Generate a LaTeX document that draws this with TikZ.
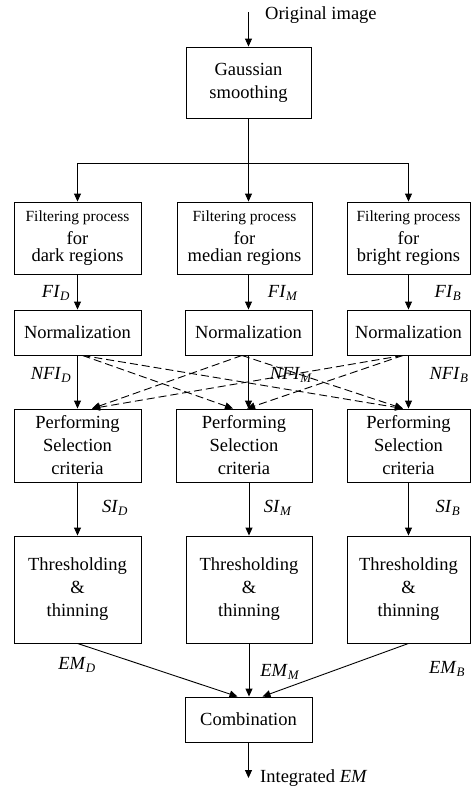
\documentclass[tikz,border=0pt]{standalone}
\usepackage{fontspec}
\setmainfont{Liberation Serif}
\usetikzlibrary{arrows.meta,positioning}
\newcommand{\sname}[2]{\textit{#1}\textsubscript{\textit{#2}}}
\newcommand{\filtfont}{\fontsize{15.5}{20}\selectfont}

\begin{document}
\begin{tikzpicture}[x=1pt, y=-1pt, font=\fontsize{18.5}{23}\selectfont]

\tikzstyle{block} = [rectangle, draw, line width=0.9pt, align=center, inner sep=0pt]
\tikzstyle{arrow} = [line width=0.9pt, -{Triangle[length=8pt,width=7pt]}]
\tikzstyle{cross} = [arrow, dash pattern=on 8pt off 4pt]
\tikzstyle{lbl} = [inner sep=0pt]

\useasboundingbox (0,0) rectangle (471,790);

% Input and smoothing
\coordinate (input) at (248.5,12);
\node (inlbl) [lbl, anchor=west] at (265,15) {Original image};
\node (gauss) [block, minimum width=125pt, minimum height=71pt] at (248.5,82.5) {Gaussian\\smoothing};
\draw [arrow] (input) -- (gauss);

% Filtering
\node (filtD) [block, minimum width=127pt, minimum height=72pt] at (77.5,238) {{\filtfont Filtering process}\\for\\[-6pt]dark regions};
\node (filtM) [block, minimum width=135pt, minimum height=72pt] at (244.5,238) {{\filtfont Filtering process}\\for\\[-6pt]median regions};
\node (filtB) [block, minimum width=123pt, minimum height=72pt] at (408.5,238) {{\filtfont Filtering process}\\for\\[-6pt]bright regions};

\draw [line width=0.9pt] (gauss.south) -- ++(0,45) coordinate (split);
\draw [arrow] (split) -| (filtD.north);
\draw [arrow] (split) -| (filtB.north);
\draw [arrow] (split) -- (split |- filtM.north);

% Normalization
\node (normD) [block, minimum width=127pt, minimum height=45pt] at (77.5,332.5) {Normalization};
\node (normM) [block, minimum width=127pt, minimum height=45pt] at (248.5,332.5) {Normalization};
\node (normB) [block, minimum width=123pt, minimum height=45pt] at (408.5,332.5) {Normalization};

\draw [arrow] (filtD) -- (normD);
\draw [arrow] (normM.north |- filtM.south) -- (normM.north);
\draw [arrow] (filtB) -- (normB);

\node (fiD) [lbl] at (56,293) {\sname{FI}{D}};
\node (fiM) [lbl] at (283,293) {\sname{FI}{M}};
\node (fiB) [lbl] at (448,293) {\sname{FI}{B}};

% Selection criteria
\node (perfD) [block, minimum width=127pt, minimum height=73pt] at (77.5,445.5) {Performing\\Selection\\criteria};
\node (perfM) [block, minimum width=136pt, minimum height=73pt] at (244,445.5) {Performing\\Selection\\criteria};
\node (perfB) [block, minimum width=123pt, minimum height=73pt] at (408.5,445.5) {Performing\\Selection\\criteria};

\draw [arrow] (normD) -- (perfD);
\draw [arrow] (normM.south) -- (normM.south |- perfM.north);
\draw [arrow] (normB) -- (perfB);

\draw [cross] ([xshift=5pt]normD.south) -- ([xshift=-11pt]perfM.north);
\draw [cross] ([xshift=5pt]normD.south) -- ([xshift=-5.5pt]perfB.north);
\draw [cross] ([xshift=-6.5pt]normM.south) -- ([xshift=14.5pt]perfD.north);
\draw [cross] ([xshift=-6.5pt]normM.south) -- ([xshift=-5.5pt]perfB.north);
\draw [cross] ([xshift=-5.5pt]normB.south) -- ([xshift=14.5pt]perfD.north);
\draw [cross] ([xshift=-5.5pt]normB.south) -- ([xshift=3pt]perfM.north);

\node (nfiD) [lbl] at (51,375) {\sname{NFI}{D}};
\node (nfiM) [lbl] at (291,375) {\sname{NFI}{M}};
\node (nfiB) [lbl] at (449,375) {\sname{NFI}{B}};

% Thresholding
\node (thrD) [block, minimum width=127pt, minimum height=107pt] at (77.5,589.5) {Thresholding\\\&\\thinning};
\node (thrM) [block, minimum width=126pt, minimum height=107pt] at (249,589.5) {Thresholding\\\&\\thinning};
\node (thrB) [block, minimum width=123pt, minimum height=107pt] at (408.5,589.5) {Thresholding\\\&\\thinning};

\draw [arrow] (perfD) -- (thrD);
\draw [arrow] (thrM.north |- perfM.south) -- (thrM.north);
\draw [arrow] (perfB) -- (thrB);

\node (siD) [lbl] at (115,508) {\sname{SI}{D}};
\node (siM) [lbl] at (278,508) {\sname{SI}{M}};
\node (siB) [lbl] at (448,508) {\sname{SI}{B}};

% Combination and output
\node (comb) [block, minimum width=127pt, minimum height=45pt] at (248.5,719.5) {Combination};

\draw [arrow] (thrD.south) -- ([xshift=-11pt]comb.north);
\draw [arrow] (thrM.south) -- (thrM.south |- comb.north);
\draw [arrow] (thrB.south) -- ([xshift=14pt]comb.north);

\node (emD) [lbl] at (77,665) {\sname{EM}{D}};
\node (emM) [lbl] at (280,672) {\sname{EM}{M}};
\node (emB) [lbl] at (447,669) {\sname{EM}{B}};

\coordinate (output) at (248.5,778);
\draw [arrow] (comb) -- (output);
\node (outlbl) [lbl, anchor=west] at (260,778) {Integrated \textit{EM}};

\end{tikzpicture}
\end{document}
